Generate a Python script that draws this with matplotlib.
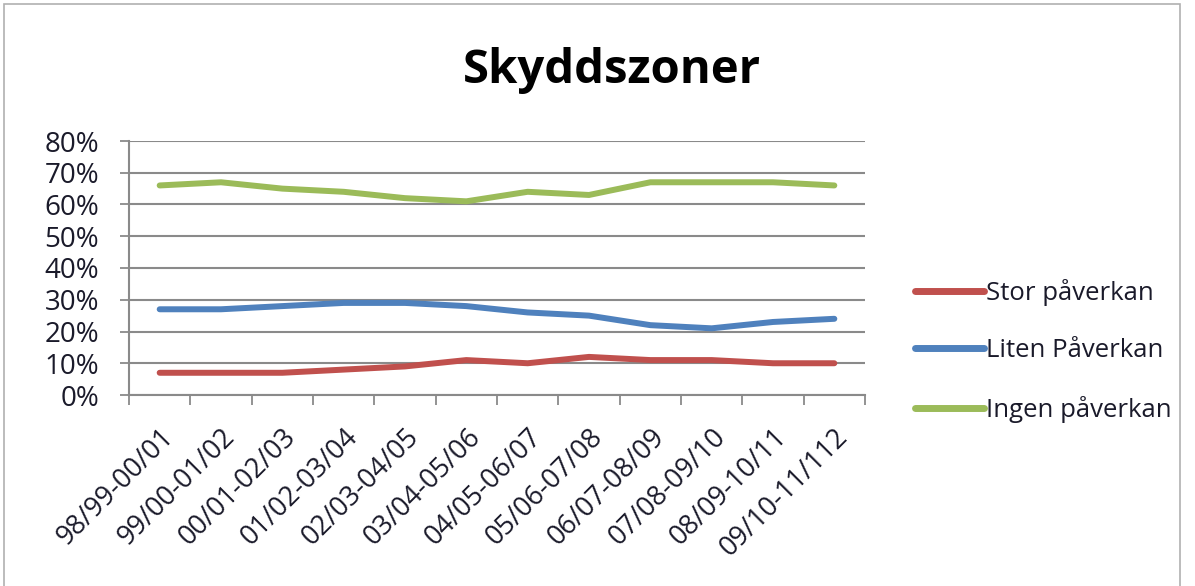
import matplotlib
matplotlib.use("Agg")
import matplotlib.pyplot as plt
from matplotlib.patches import Rectangle
from matplotlib.transforms import ScaledTranslation
import numpy as np

categories = ["98/99-00/01", "99/00-01/02", "00/01-02/03", "01/02-03/04",
              "02/03-04/05", "03/04-05/06", "04/05-06/07", "05/06-07/08",
              "06/07-08/09", "07/08-09/10", "08/09-10/11", "09/10-11/112"]
stor = [7, 7, 7, 8, 9, 11, 10, 12, 11, 11, 10, 10]
liten = [27, 27, 28, 29, 29, 28, 26, 25, 22, 21, 23, 24]
ingen = [66, 67, 65, 64, 62, 61, 64, 63, 67, 67, 67, 66]
series_names = ["Stor påverkan", "Liten Påverkan", "Ingen påverkan"]
colors = ["#C0504D", "#4F81BD", "#9BBB59"]
yticks = [0, 10, 20, 30, 40, 50, 60, 70, 80]

plt.rcParams['font.family'] = ['Open Sans', 'DejaVu Sans']

fig = plt.figure(figsize=(11.95, 5.86), dpi=100)
ax = fig.add_axes([129/1195, 1 - 395/586, (865-129)/1195, (395-141)/586])

x = np.arange(len(categories))
for vals, name, c in zip([stor, liten, ingen], series_names, colors):
    ax.plot(x, vals, color=c, lw=4.3, solid_capstyle='round', label=name)

ax.set_xlim(-0.5, len(categories) - 0.5)
ax.set_ylim(0, 80)
ax.set_yticks(yticks)
ax.set_yticklabels([f"{v}%" for v in yticks], fontsize=20, color="#1a1a2a")
ax.yaxis.grid(True, color="#8a8a8a", lw=1.5)
ax.set_axisbelow(True)

ax.set_xticks(np.arange(len(categories) + 1) - 0.5)
ax.set_xticklabels([])
ax.set_xticks(x, minor=True)
ax.set_xticklabels(categories, minor=True, rotation=45, ha='right',
                   rotation_mode='anchor', fontsize=19.5, color="#1a1a2a")
off = ScaledTranslation(4/100, 0, fig.dpi_scale_trans)
for lab in ax.get_xticklabels(minor=True):
    lab.set_transform(lab.get_transform() + off)
ax.tick_params(axis='x', which='minor', length=0, pad=20)
ax.tick_params(axis='x', which='major', length=7, color="#8a8a8a", width=1.3)
ax.tick_params(axis='y', length=6.5, color="#8a8a8a", width=1.3, pad=15)

for s in ['top', 'right']:
    ax.spines[s].set_visible(False)
for s in ['left', 'bottom']:
    ax.spines[s].set_color("#8a8a8a")
    ax.spines[s].set_linewidth(1.5)

fig.text(612/1195, 1 - 70/586, "Skyddszoner", fontsize=34, fontweight='bold',
         ha='center', va='center', color="#000000")

leg = fig.legend(loc='upper left', bbox_to_anchor=(902/1195, 1 - 266/586),
                 frameon=False, fontsize=18.5, handlelength=2.7,
                 handletextpad=0.05, labelspacing=1.26, borderpad=0)
for t in leg.get_texts():
    t.set_color("#1a1a2a")
for h in leg.get_lines():
    h.set_linewidth(5)

fig.patches.append(Rectangle((4/1195, -0.02), 1176/1195, 1 - 4/586 + 0.02,
                             transform=fig.transFigure, fill=False,
                             edgecolor="#b0b0b0", lw=1.2))

fig.savefig("out.png", dpi=100, facecolor="white")
